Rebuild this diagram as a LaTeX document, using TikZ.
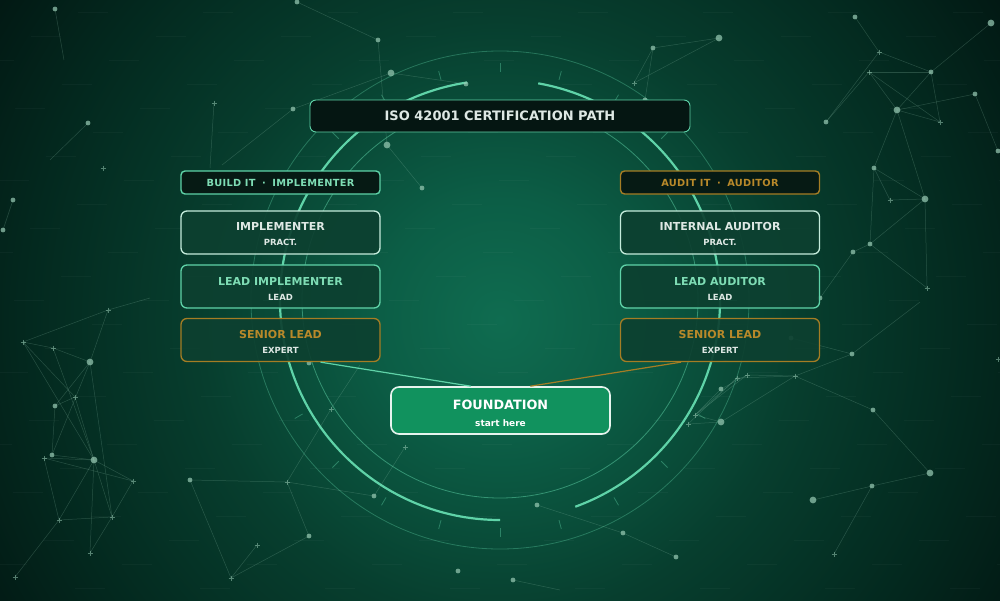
\documentclass[tikz,border=0pt]{standalone}
\usepackage{fontspec}
\setmainfont{DejaVu Sans}
\newfontfamily\lsfont[LetterSpace=3]{DejaVu Sans}
\usetikzlibrary{calc}

\definecolor{bgA}{RGB}{15,108,80}
\definecolor{bgB}{RGB}{12,94,70}
\definecolor{bgC}{RGB}{7,62,46}
\definecolor{bgD}{RGB}{3,40,30}
\definecolor{bgE}{RGB}{2,24,19}
\definecolor{mint}{RGB}{95,211,168}
\definecolor{mintT}{RGB}{126,220,180}
\definecolor{pale}{RGB}{197,236,220}
\definecolor{gold}{RGB}{165,125,36}
\definecolor{goldT}{RGB}{184,137,42}
\definecolor{tierfill}{RGB}{13,64,48}
\definecolor{tagfill}{RGB}{6,26,20}
\definecolor{titlefill}{RGB}{5,22,18}
\definecolor{foundfill}{RGB}{17,146,94}
\definecolor{foundline}{RGB}{230,244,238}
\definecolor{lighttext}{RGB}{222,232,228}
\definecolor{dotc}{RGB}{150,200,178}

\pgfdeclareradialshading{bgshade}{\pgfpoint{0bp}{0bp}}{color(0bp)=(bgA); color(5bp)=(bgB); color(12.5bp)=(bgC); color(20bp)=(bgD); color(25bp)=(bgE); color(50bp)=(bgE)}

\tikzset{
  ringthick/.style={draw=mint, line width=2.2pt},
  ringthin/.style={draw=mint, line width=0.8pt, opacity=0.5},
  ringtick/.style={draw=mint, line width=0.8pt, opacity=0.4},
  plexline/.style={draw=dotc, line width=0.5pt, opacity=0.24},
  plexdot/.style={fill=dotc, opacity=0.72},
  plexcross/.style={draw=dotc, line width=0.6pt, opacity=0.55},
  titlebox/.style={draw=mint, line width=0.9pt, fill=titlefill, rounded corners=6pt,
    minimum width=380pt, minimum height=32pt, inner sep=0pt, text=lighttext,
    font=\fontsize{13}{14}\selectfont\bfseries},
  grouptag/.style={line width=1.4pt, fill=tagfill, rounded corners=4pt,
    minimum width=199pt, minimum height=23pt, inner sep=0pt,
    font=\lsfont\fontsize{9.8}{12}\selectfont\bfseries},
  tierbox/.style={line width=1.3pt, fill=tierfill, fill opacity=0.92, text opacity=1,
    rounded corners=6pt, minimum width=199pt, minimum height=43pt, inner sep=0pt,
    align=center, font=\fontsize{11}{15}\selectfont\bfseries},
  foundbox/.style={draw=foundline, line width=1.6pt, fill=foundfill, rounded corners=8pt,
    minimum width=219pt, minimum height=47pt, inner sep=0pt, align=center,
    text=white, font=\fontsize{12.8}{16}\selectfont\bfseries},
  conn/.style={line width=1.2pt},
}

\newcommand{\topl}[1]{\rule{0pt}{12pt}#1}
\newcommand{\subl}[1]{{\fontsize{8.5}{15}\selectfont #1}}

\begin{document}
\begin{tikzpicture}[x=1pt,y=-1pt]
\useasboundingbox (0,0) rectangle (1000,600);
\begin{scope}
\clip (0,0) rectangle (1000,600);
\shade[shading=bgshade] (-100,-280) rectangle (1100,920);
% faint texture
\foreach \y [count=\i] in {12,36,...,588}{
  \draw[white, opacity=0.03, line width=1pt, dash pattern=on 30pt off 95pt, dash phase={mod(\i*47,125)}] (0,\y) -- (1000,\y);
}

% rings
\coordinate (C) at (500,300);
\draw[ringthin] (C) circle[radius=198];
\draw[ringthin, opacity=0.35] (C) circle[radius=249];
\draw[ringthick] ($(C)+(-98.6:220)$) arc[start angle=-98.6, end angle=-270, radius=220];
\draw[ringthick] ($(C)+(-290:220)$) arc[start angle=-290, end angle=-440, radius=220];
\foreach \a in {0,15,...,345}
  \draw[ringtick] ($(C)+(\a:228)$) -- ($(C)+(\a:237)$);

% plexus points
\foreach \n/\x/\y in {
 a1/297/2, a2/378/40, a3/391/73, a4/466/84, a5/293/109, a6/387/145, a7/422/188,
 a8/214/103, a9/55/9, a10/88/123, a11/103/168, a12/13/200, a13/3/230, a14/210/168,
 a15/50/160, a16/222/165, a17/64/60,
 b1/653/48, b2/719/38, b3/634/83, b4/855/17, b5/879/52, b6/869/72, b7/931/72,
 b8/991/23, b9/897/110, b10/826/122, b11/975/94, b12/940/122, b13/998/151,
 b14/874/168, b15/925/199, b16/890/200, b17/870/244, b18/853/252, b19/927/288,
 b20/820/298, b21/645/100,
 c1/108/310, c2/23/342, c3/53/348, c4/90/362, c5/75/397, c6/55/406, c7/52/455,
 c8/44/458, c9/94/460, c10/133/481, c11/59/520, c12/112/517, c13/90/553,
 c14/15/577, c15/190/480, c16/287/482, c17/309/536, c18/257/545, c19/231/578,
 c20/374/496, c21/405/447, c22/331/409, c23/458/571, c24/309/363, c25/150/298,
 c26/360/365,
 d1/852/354, d2/795/376, d3/737/378, d4/747/375, d5/721/389, d6/695/415,
 d7/688/424, d8/721/422, d9/873/410, d10/930/473, d11/872/486, d12/813/500,
 d13/834/554, d14/537/505, d15/623/533, d16/676/557, d17/513/580, d18/998/359,
 d19/791/338, d20/920/302, d21/560/590}{\coordinate (\n) at (\x,\y);}

\foreach \p/\q in {
 a1/a2, a2/a6, a3/a5, a5/a16, a6/a7, a8/a14, a10/a15, a12/a13, a3/a4, a9/a17,
 b1/b2, b1/b3, b3/b2, b1/b21, b4/b5, b5/b7, b6/b7, b6/b9, b5/b10, b7/b8, b7/b9,
 b9/b11, b11/b13, b9/b14, b9/b12, b7/b12, b14/b15, b14/b16, b16/b15, b15/b17,
 b17/b18, b15/b19, b17/b19, b9/b15, b6/b10, b18/b20, b14/b17, b6/b12,
 c1/c2, c1/c4, c1/c25, c2/c3, c2/c5, c3/c4, c2/c9, c3/c9, c4/c6, c4/c7, c5/c6,
 c6/c7, c7/c9, c8/c9, c9/c10, c8/c10, c8/c11, c9/c11, c9/c12, c9/c13, c11/c12,
 c12/c10, c12/c13, c11/c14, c4/c12, c15/c16, c15/c19, c16/c20, c16/c17, c17/c19,
 c18/c19, c16/c22, c22/c26, c21/c20, c5/c9,
 d1/d2, d2/d9, d2/d3, d2/d8, d3/d6, d4/d6, d5/d6, d6/d8, d7/d8, d3/d7, d1/d20,
 d9/d10, d10/d11, d11/d12, d11/d13, d14/d15, d15/d16, d17/d21, d2/d4, d5/d4, d1/d19}{\draw[plexline] (\p) -- (\q);}

\foreach \n in {a1,a2,a4,a5,a7,a9,a10,a12,a13,b1,b4,b7,b10,b11,b13,b14,b17,b18,b20,b21,
  c6,c7,c15,c17,c20,c23,c24,d1,d5,d9,d11,d14,d15,d16,d17,d19}{\fill[plexdot] (\n) circle[radius=2.4];}
\foreach \n in {a3,a6,b2,b8,b9,b15,c4,c9,d8,d10,d12}{\fill[plexdot] (\n) circle[radius=3.4];}
\foreach \n in {a8,a11,b3,b5,b6,b12,b16,b19,c1,c2,c3,c5,c8,c10,c11,c12,c13,c14,c16,
  c18,c19,c21,c22,d2,d3,d4,d6,d7,d13,d18}{\draw[plexcross] ($(\n)+(-2.5,0)$) -- ($(\n)+(2.5,0)$) ($(\n)+(0,-2.5)$) -- ($(\n)+(0,2.5)$);}
\end{scope}

% nodes
\node[titlebox] (title) at (500,116) {ISO 42001 CERTIFICATION PATH};

\node[grouptag, draw=mint, text=mintT] (build) at (280.5,182.5)
  {BUILD IT\hspace{6.5pt}·\hspace{6.5pt}IMPLEMENTER};
\node[grouptag, draw=gold, text=goldT] (audit) at (720,182.5)
  {AUDIT IT\hspace{6.5pt}·\hspace{6.5pt}AUDITOR};

\node[tierbox, draw=pale, text=lighttext] (impl) at (280.5,232.5)
  {\topl{IMPLEMENTER}\\\subl{PRACT.}};
\node[tierbox, draw=mint, text=mintT] (limpl) at (280.5,286.5)
  {\topl{LEAD IMPLEMENTER}\\\subl{\color{lighttext}LEAD}};
\node[tierbox, draw=gold, text=goldT] (snl) at (280.5,340)
  {\topl{SENIOR LEAD}\\\subl{\color{lighttext}EXPERT}};

\node[tierbox, draw=pale, text=lighttext] (iaud) at (720,232.5)
  {\topl{INTERNAL AUDITOR}\\\subl{PRACT.}};
\node[tierbox, draw=mint, text=mintT] (laud) at (720,286.5)
  {\topl{LEAD AUDITOR}\\\subl{\color{lighttext}LEAD}};
\node[tierbox, draw=gold, text=goldT] (snr) at (720,340)
  {\topl{SENIOR LEAD}\\\subl{\color{lighttext}EXPERT}};

\node[foundbox] (found) at (500.5,410.5)
  {\rule{0pt}{16pt}FOUNDATION\\[1pt]{\fontsize{9}{15}\selectfont start here}};

% connectors
\draw[conn, draw=mint] ($(snl.south west)!0.7!(snl.south east)$) -- ($(found.north west)!0.365!(found.north east)$);
\draw[conn, draw=gold] ($(snr.south west)!0.305!(snr.south east)$) -- ($(found.north west)!0.635!(found.north east)$);
\end{tikzpicture}
\end{document}
